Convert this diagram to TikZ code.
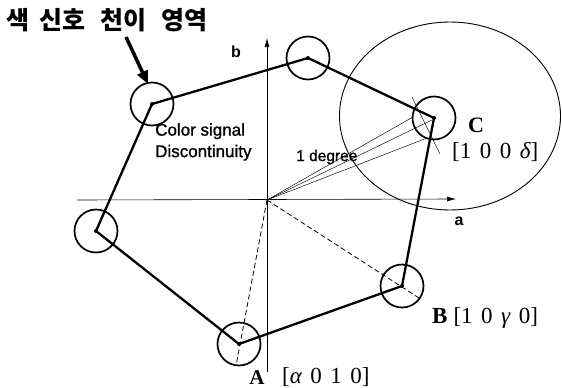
\documentclass[tikz,border=0pt]{standalone}
\usepackage{fontspec}
\setmainfont{Liberation Serif}
\setsansfont{Liberation Sans}
\newfontfamily\kr{Noto Sans CJK KR}
\newfontfamily\sfthick{Liberation Sans}[FakeBold=1.2]
\usetikzlibrary{arrows.meta,shapes.geometric}
\newcommand{\gp}{\hspace{8.5pt}}
\begin{document}
\begin{tikzpicture}[x=1pt,y=-1pt,
  vtx/.style={circle,draw,line width=1.7pt,minimum size=43pt,inner sep=0pt},
  edge/.style={line width=2.3pt,line cap=round,line join=round},
  axis/.style={line width=0.6pt,-{Latex[length=9pt,width=5pt]}},
  thinline/.style={line width=0.45pt},
  dashline/.style={line width=0.8pt,dash pattern=on 5pt off 3pt},
  lbl/.style={font=\sffamily\bfseries\fontsize{16}{18}\selectfont,inner sep=0pt},
  serif/.style={font=\fontsize{23}{25}\selectfont,inner sep=0pt}]
\useasboundingbox (0,0) rectangle (562,388);
% axes
\coordinate (O) at (267,200);
\coordinate (astart) at (77,200);
\coordinate (aend) at (456,199);
\coordinate (bstart) at (267,372);
\coordinate (bend) at (267,38);
\draw[axis] (astart) -- (aend);
\draw[axis] (bstart) -- (bend);
\node[lbl] (alab) at (459,221) {a};
\node[lbl] (blab) at (236,52) {b};
% big ellipse
\node[ellipse,draw,line width=0.9pt,minimum width=221pt,minimum height=188pt,inner sep=0pt] (big) at (450,116) {};
% vertices
\node[vtx] (v1) at (152,104) {};
\node[vtx] (v2) at (308,58) {};
\node[vtx] (C) at (434,118) {};
\node[vtx] (B) at (402,286) {};
\node[vtx] (A) at (239,344) {};
\node[vtx] (v6) at (96,231) {};
\foreach \v in {v1,v2,C,B,A,v6} \fill (\v.center) circle (2pt);
% polygon
\draw[edge] (v1.center) -- (v2.center) -- (C.center) -- (B.center) -- (A.center) -- (v6.center) -- cycle;
% dashed lines
\coordinate (Aend) at (236,366);
\coordinate (Bend) at (419,298);
\draw[dashline] (O) -- (Aend);
\draw[dashline] (O) -- (Bend);
% fan of thin lines
\coordinate (f1) at (413,117);
\coordinate (f2) at (432,120);
\coordinate (f3) at (427,138);
\draw[thinline] (O) -- (f1);
\draw[thinline] (O) -- (f2);
\draw[thinline] (O) -- (f3);
\coordinate (t1) at (412,97);
\coordinate (t2) at (440,154);
\draw[thinline] (t1) -- (t2);
% arrow to region
\coordinate (ar1) at (126,37);
\coordinate (ar2) at (148,84);
\draw[line width=3.5pt,-{Triangle[length=13pt,width=11pt]}] (ar1) -- (ar2);
% texts
\node[font=\kr\bfseries\fontsize{25}{27}\selectfont,inner sep=0pt,anchor=west] (title) at (6.5,20) {색\hspace{10pt}신호\hspace{15pt}천이\hspace{15pt}영역};
\node[align=left,anchor=west,inner sep=0pt,font=\sfthick\fontsize{17}{21.5}\selectfont] (cs) at (155,142) {Color signal\\Discontinuity};
\node[inner sep=0pt,font=\sfthick\fontsize{15.5}{17}\selectfont,anchor=west] (deg) at (296,157) {1 degree};
\node[serif,font=\bfseries\fontsize{22}{24}\selectfont] (Clab) at (476,125) {C};
\node[serif,anchor=west] (Cvec) at (452,152) {[1\gp0\gp0\gp{\itshape δ}]};
\node[serif,anchor=west] (Blab) at (432,318) {\textbf{B}\hspace{6pt}[1\gp0\gp{\itshape γ}\gp0]};
\node[serif,font=\bfseries\fontsize{21}{23}\selectfont] (Alab) at (257,378) {A};
\node[serif,anchor=west] (Avec) at (282,377) {[{\itshape α}\gp0\gp1\gp0]};
\end{tikzpicture}
\end{document}
